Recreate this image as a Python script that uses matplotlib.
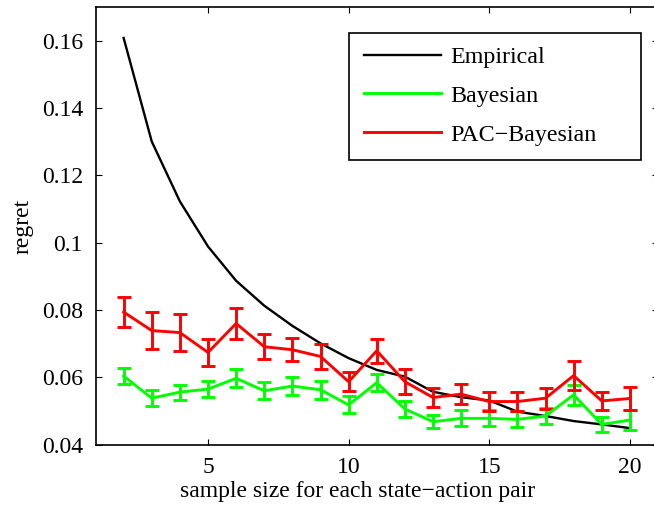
import matplotlib
matplotlib.use("Agg")
import matplotlib.pyplot as plt
from matplotlib.lines import Line2D
from matplotlib.patches import Rectangle

plt.rcParams['font.family'] = ['Liberation Serif', 'DejaVu Serif']

sample_size = list(range(2, 21))

empirical = [0.1609, 0.1301, 0.1123, 0.0989, 0.0887, 0.0813, 0.0753, 0.0701,
             0.0657, 0.0622, 0.0602, 0.0557, 0.0541, 0.0531, 0.0498, 0.0485,
             0.0470, 0.0460, 0.0449]

bayesian = [0.0604, 0.0538, 0.0556, 0.0565, 0.0597, 0.0560, 0.0574, 0.0563,
            0.0518, 0.0584, 0.0506, 0.0468, 0.0478, 0.0478, 0.0475, 0.0485,
            0.0548, 0.0460, 0.0473]
bayesian_err = [0.0023, 0.0024, 0.0022, 0.0024, 0.0027, 0.0025, 0.0026, 0.0027,
                0.0025, 0.0025, 0.0025, 0.0020, 0.0024, 0.0024, 0.0024, 0.0024,
                0.0030, 0.0022, 0.0029]

pac_bayesian = [0.0794, 0.0739, 0.0733, 0.0674, 0.0760, 0.0691, 0.0682, 0.0662,
                0.0587, 0.0679, 0.0587, 0.0540, 0.0550, 0.0528, 0.0528, 0.0538,
                0.0605, 0.0530, 0.0537]
pac_bayesian_err = [0.0045, 0.0055, 0.0056, 0.0040, 0.0045, 0.0037, 0.0034, 0.0036,
                    0.0029, 0.0036, 0.0038, 0.0029, 0.0030, 0.0027, 0.0027, 0.0031,
                    0.0043, 0.0027, 0.0033]

series_labels = ['Empirical', 'Bayesian', 'PAC\u2212Bayesian']
x_ticks = [5, 10, 15, 20]
y_ticks = [0.04, 0.06, 0.08, 0.10, 0.12, 0.14, 0.16]
y_tick_labels = ["0.04", "0.06", "0.08", "0.1", "0.12", "0.14", "0.16"]

GREEN = (0, 1, 0)
RED = (1, 0, 0)

W, H = 654, 507
fig = plt.figure(figsize=(W / 100, H / 100), dpi=100)
ax_left, ax_right = 95.5, 658
ax = fig.add_axes([ax_left / W, 1 - 444.6 / H, (ax_right - ax_left) / W, (444.6 - 7.3) / H])

ax.plot(sample_size, empirical, color='black', lw=1.7)
ax.errorbar(sample_size, bayesian, yerr=bayesian_err, color=GREEN, lw=2.1,
            elinewidth=2.1, capsize=5, capthick=2.1)
ax.errorbar(sample_size, pac_bayesian, yerr=pac_bayesian_err, color=RED, lw=2.1,
            elinewidth=2.1, capsize=5, capthick=2.1)

ax.set_xlim(1, 21)
ax.set_ylim(0.04, 0.17)
ax.set_xticks(x_ticks)
ax.set_xticklabels([str(v) for v in x_ticks])
ax.set_yticks(y_ticks)
ax.set_yticklabels(y_tick_labels)

ax.tick_params(direction='in', length=4.5, width=0.8, top=True, right=True,
               labelsize=17, pad=9)
for s in ax.spines.values():
    s.set_linewidth(1.2)

ax.set_xlabel('sample size for each state\u2212action pair', fontsize=17, labelpad=2)
ax.xaxis.label.set_x((358 - ax_left) / (ax_right - ax_left))
ax.set_ylabel('regret', fontsize=17, labelpad=6)

# legend box (MATLAB style, extra right padding)
box = Rectangle((349 / W, 1 - 160 / H), (641 - 349) / W, (160 - 33) / H,
                transform=fig.transFigure, facecolor='white', edgecolor='black',
                linewidth=1.2, zorder=5)
fig.patches.append(box)

h = [Line2D([], [], color='black', lw=1.7),
     Line2D([], [], color=GREEN, lw=2.1),
     Line2D([], [], color=RED, lw=2.1)]
leg = fig.legend(h, series_labels, loc='center left',
                 bbox_to_anchor=(364 / W, 1 - 96 / H), bbox_transform=fig.transFigure,
                 borderaxespad=0, borderpad=0, fontsize=17.3, frameon=False,
                 handlelength=3.2, handletextpad=0.4, labelspacing=0.7)
leg.set_zorder(6)

fig.savefig('out.png', dpi=100)
